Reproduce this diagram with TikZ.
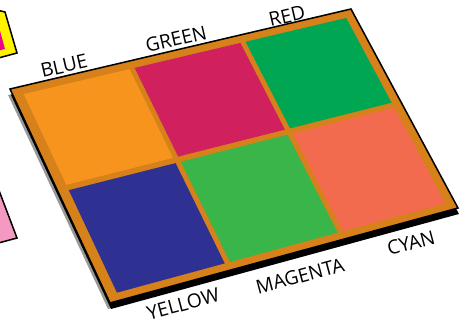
\documentclass[tikz,border=0pt]{standalone}
\usepackage{fontspec}
\newfontfamily\lblfont{Open Sans}
\usetikzlibrary{calc}

\definecolor{rim}{HTML}{D6811A}
\definecolor{cellorange}{HTML}{F7941D}
\definecolor{cellcrimson}{HTML}{D0205E}
\definecolor{celldarkgreen}{HTML}{00A651}
\definecolor{cellnavy}{HTML}{2E3192}
\definecolor{cellgreen}{HTML}{39B54A}
\definecolor{cellcoral}{HTML}{F26B4F}
\definecolor{cardyellow}{HTML}{FFF200}
\definecolor{cardmagenta}{HTML}{EC008C}
\definecolor{cardpink}{HTML}{F49AC2}

%% one square of the board, given by u from #1 to #2 and v from #3 to #4
\newcommand{\boardcell}[5]{%
  \fill[#5] ($($(TL)!#1!(TR)$)!#3!($(BL)!#1!(BR)$)$)
    -- ($($(TL)!#2!(TR)$)!#3!($(BL)!#2!(BR)$)$)
    -- ($($(TL)!#2!(TR)$)!#4!($(BL)!#2!(BR)$)$)
    -- ($($(TL)!#1!(TR)$)!#4!($(BL)!#1!(BR)$)$) -- cycle;}

\begin{document}
\begin{tikzpicture}
    [x=0.03cm, y=-0.03cm,
    outline/.style={draw=black, line width=1.3pt, line join=miter},
    lbl/.style={font=\lblfont\fontsize{16.5}{18}\selectfont, inner sep=0pt}]
        \useasboundingbox (0,0) rectangle (463,321);

        %% cards at the left edge
        \begin{scope}
        \clip (0,0) rectangle (463,321);
        \filldraw[outline, fill=cardyellow] (-20,6) -- (5,12) -- (17,53) -- (-20,63) -- cycle;
        \fill[cardmagenta] (-20,27) -- (0,31) -- (5,49) -- (-20,55) -- cycle;
        \filldraw[outline, fill=cardpink] (-8,172) -- (17,238) -- (-20,248) -- cycle;
        \end{scope}

        %% board corners
        \coordinate (TL) at (10,89);
        \coordinate (TR) at (351,9);
        \coordinate (BR) at (458,208);
        \coordinate (BL) at (110,303);

        %% thickness of the board
        \fill[gray!80] ($(TL)+(-2,6)$) -- ($(TR)+(-2,6)$) -- ($(BR)+(-2,6)$) -- ($(BL)+(-2,6)$) -- cycle;
        \fill[black] ($(TL)+(1,6)$) -- ($(TR)+(1,6)$) -- ($(BR)+(1,6)$) -- ($(BL)+(1,6)$) -- cycle;
        \filldraw[outline, fill=rim] (TL) -- (TR) -- (BR) -- (BL) -- cycle;

        %% squares
        \boardcell{0.03}{0.34}{0.035}{0.46}{cellorange}
        \boardcell{0.355}{0.665}{0.035}{0.46}{cellcrimson}
        \boardcell{0.68}{0.975}{0.035}{0.46}{celldarkgreen}
        \boardcell{0.03}{0.34}{0.485}{0.965}{cellnavy}
        \boardcell{0.355}{0.665}{0.485}{0.965}{cellgreen}
        \boardcell{0.68}{0.975}{0.485}{0.965}{cellcoral}

        %% labels
        \node[lbl, rotate=13] (blue) at (64,66) {BLUE};
        \node[lbl, rotate=13] (green) at (176,39) {GREEN};
        \node[lbl, rotate=13] (red) at (287,16) {RED};
        \node[lbl, rotate=15] (yellow) at (183,304) {YELLOW};
        \node[lbl, rotate=15] (magenta) at (300,276) {MAGENTA};
        \node[lbl, rotate=15] (cyan) at (411,243) {CYAN};
    \end{tikzpicture}
\end{document}
